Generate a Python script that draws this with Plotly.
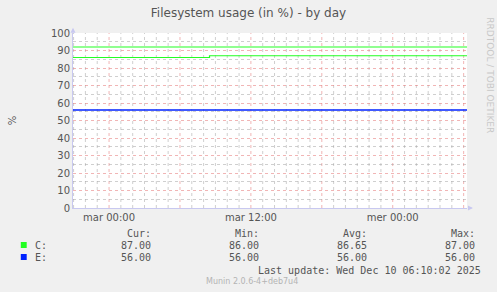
import plotly.graph_objects as go
import pandas as pd

# ---- data ----
times = ["2025-12-08 20:57", "2025-12-09 08:30", "2025-12-10 06:17"]
c_values = [86, 87, 87]
e_values = [56, 56, 56]
warn_values = [92, 92, 92]
x_range = ["2025-12-08 20:57", "2025-12-10 06:17"]
tick_vals = ["2025-12-09 00:00", "2025-12-09 12:00", "2025-12-10 00:00"]
tick_text = ["mar 00:00", "mar 12:00", "mer 00:00"]
series_names = ["C:", "E:"]
cur = ["87.00", "56.00"]
mn = ["86.00", "56.00"]
avg = ["86.65", "56.00"]
mx = ["87.00", "56.00"]
colors = ["#22FF22", "#0022FF"]

W, H = 497, 292
L, R, T, B = 67, 30, 33, 84
PW, PH = W - L - R, H - T - B


def px_x(x):
    return (x - L) / PW


def px_y(y):
    return (H - B - y) / PH


fig = go.Figure()
fig.add_trace(go.Scatter(x=times, y=warn_values, mode="lines", line=dict(color=colors[0], width=1.2), line_shape="hv", hoverinfo="skip"))
fig.add_trace(go.Scatter(x=times, y=c_values, mode="lines", line=dict(color=colors[0], width=1.2), line_shape="hv"))
fig.add_trace(go.Scatter(x=times, y=e_values, mode="lines", line=dict(color=colors[1], width=1.4), line_shape="hv"))

font = "DejaVu Sans"
mono = "DejaVu Sans Mono"
txt = "#555555"

fig.update_layout(
    width=W, height=H,
    margin=dict(l=L, r=R, t=T, b=B),
    paper_bgcolor="#F0F0F0", plot_bgcolor="#FFFFFF",
    showlegend=False,
    font=dict(family=font, size=10, color=txt),
    title=dict(text="Filesystem usage (in %) - by day", x=0.5, xanchor="center",
               y=1 - 13 / H, yanchor="middle", font=dict(family=font, size=12, color=txt)),
)

fig.update_xaxes(
    type="date", range=x_range,
    tickvals=tick_vals, ticktext=tick_text,
    tickfont=dict(family=font, size=10, color=txt),
    showgrid=False, zeroline=False,
    showline=True, linecolor="#C8C8F0", linewidth=1,
    ticks="", ticklen=0,
)
fig.update_yaxes(
    range=[0, 100], tickvals=list(range(0, 101, 10)),
    tickfont=dict(family=font, size=10, color=txt),
    showgrid=True, gridcolor="rgba(230,120,120,0.55)", griddash="dot", gridwidth=1,
    minor=dict(tickvals=list(range(5, 100, 10)), showgrid=True, gridcolor="rgba(160,160,160,0.5)", griddash="dot"),
    zeroline=False, showline=True, linecolor="#C8C8F0", linewidth=1,
    ticks="", ticklen=0,
    title=dict(text="%", font=dict(family=font, size=10, color=txt), standoff=32),
)

# vertical grid lines: minor hourly, major every 6 hours
hours = pd.date_range("2025-12-08 21:00", "2025-12-10 06:00", freq="1h")
for h in hours:
    major = h.hour % 6 == 0
    fig.add_shape(type="line", xref="x", yref="y domain", x0=h, x1=h, y0=0, y1=1,
                  line=dict(color="rgba(230,120,120,0.55)" if major else "rgba(160,160,160,0.5)",
                            width=1, dash="dot"), layer="below")

# axis arrows
fig.add_annotation(xref="x domain", yref="y domain", x=1.015, y=0, ax=-6, ay=0,
                   showarrow=True, arrowhead=2, arrowsize=1, arrowwidth=1, arrowcolor="#C8C8F0", text="")
fig.add_annotation(xref="x domain", yref="y domain", x=0, y=1.03, ax=0, ay=6,
                   showarrow=True, arrowhead=2, arrowsize=1, arrowwidth=1, arrowcolor="#C8C8F0", text="")


def label(x, y, text, anchor="left", f=mono, size=10, color=txt, angle=0):
    fig.add_annotation(xref="paper", yref="paper", x=px_x(x), y=px_y(y), text=text, showarrow=False,
                       xanchor=anchor, yanchor="middle", textangle=angle,
                       font=dict(family=f, size=size, color=color))


# side credit
label(490, 75, "RRDTOOL / TOBI OETIKER", anchor="center", f=font, size=9, color="#C8C8C8", angle=90)

# legend table
cols_x = [148, 258, 367, 477]
for hx, h in zip(cols_x, ["Cur:", "Min:", "Avg:", "Max:"]):
    label(hx, 233, h, anchor="right")
rows_y = [245, 257]
for i, name in enumerate(series_names):
    y = rows_y[i]
    fig.add_shape(type="rect", xref="paper", yref="paper",
                  x0=px_x(14), x1=px_x(20), y0=px_y(y + 3), y1=px_y(y - 3),
                  fillcolor=colors[i], line=dict(width=0))
    label(26, y, name)
    for cx, v in zip(cols_x, [cur[i], mn[i], avg[i], mx[i]]):
        label(cx, y, v, anchor="right")
label(483, 270, "Last update: Wed Dec 10 06:10:02 2025", anchor="right")
label(249, 281, "Munin 2.0.6-4+deb7u4", anchor="center", size=8, color="#B4B4B4", f=font)

fig.write_html("out.html")
